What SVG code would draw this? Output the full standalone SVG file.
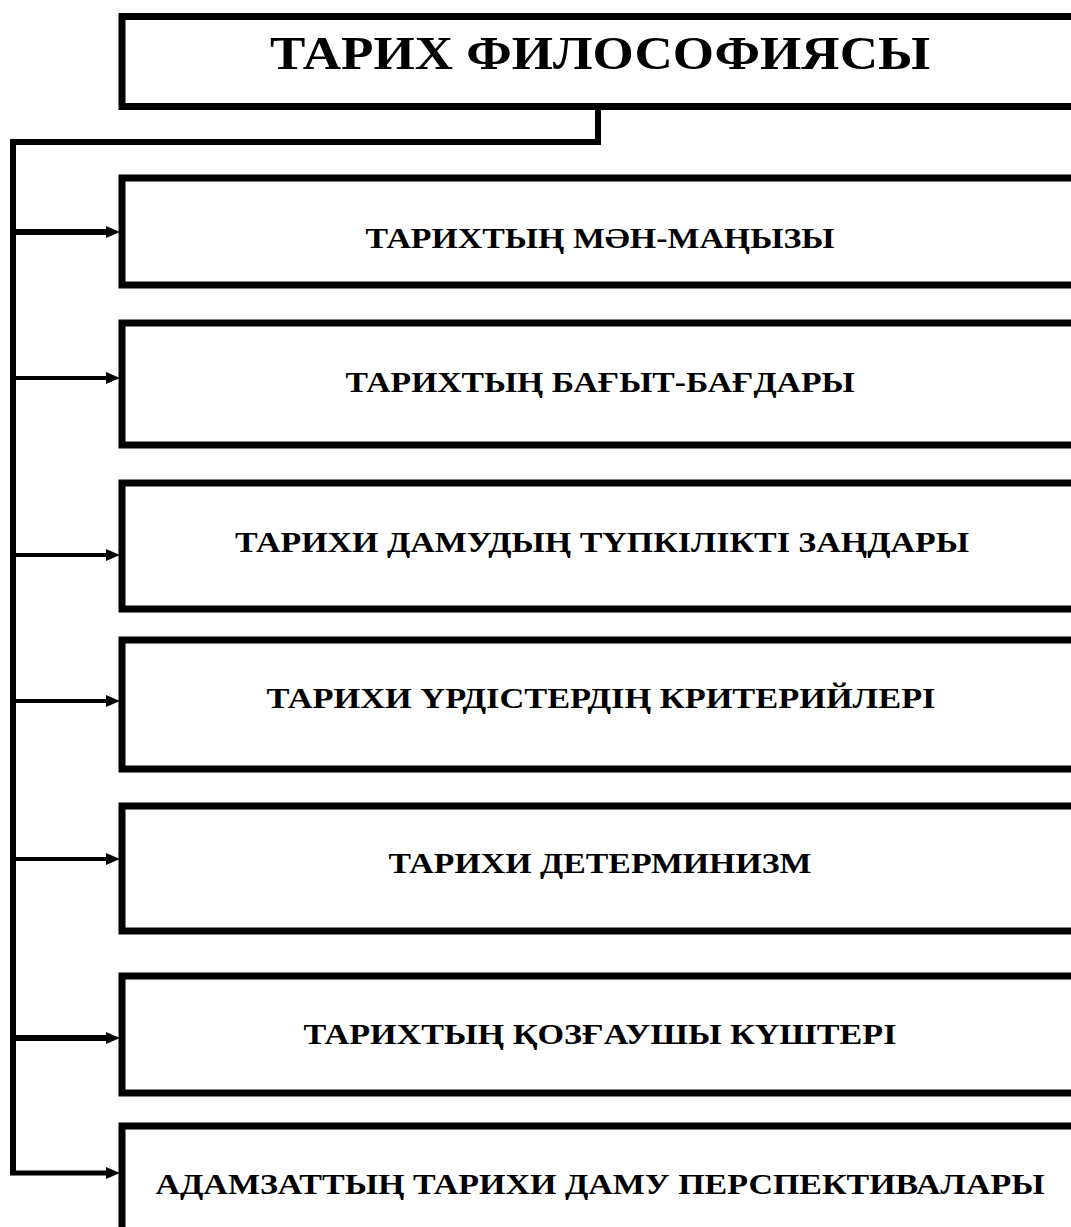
<svg xmlns="http://www.w3.org/2000/svg" width="1071" height="1227" viewBox="0 0 1071 1227">
<style>
  .box { fill: #ffffff; stroke: #000000; stroke-width: 7; }
  .lbl { font-family: "Liberation Serif", "Times New Roman", serif; font-weight: bold; fill: #000000; text-anchor: middle; }
  .t { font-size: 30px; }
  .title { font-size: 47px; }
  .wire { fill: none; stroke: #000000; stroke-width: 6; }
  .arr { fill: none; stroke: #000000; }
</style>
<defs>
  <marker id="ah" markerUnits="userSpaceOnUse" markerWidth="14" markerHeight="12" refX="0" refY="6" orient="auto">
    <path d="M0,0 L14,6 L0,12 z" fill="#000000"/>
  </marker>
</defs>
<rect width="1071" height="1227" fill="#ffffff"/>

<g id="connectors">
  <path class="wire" d="M598,108 V142 H13 V1173"/>
  <line class="arr" x1="10" y1="232" x2="106" y2="232" stroke-width="6" marker-end="url(#ah)"/>
  <line class="arr" x1="13" y1="378" x2="106" y2="378" stroke-width="4" marker-end="url(#ah)"/>
  <line class="arr" x1="13" y1="555" x2="106" y2="555" stroke-width="4" marker-end="url(#ah)"/>
  <line class="arr" x1="13" y1="701" x2="106" y2="701" stroke-width="4" marker-end="url(#ah)"/>
  <line class="arr" x1="13" y1="859" x2="106" y2="859" stroke-width="4" marker-end="url(#ah)"/>
  <line class="arr" x1="10" y1="1038" x2="106" y2="1038" stroke-width="6" marker-end="url(#ah)"/>
  <line class="arr" x1="10" y1="1173" x2="106" y2="1173" stroke-width="5" marker-end="url(#ah)"/>
</g>

<g id="root">
  <rect class="box" x="122" y="16.5" width="1000" height="90"/>
  <text class="lbl title" x="600" y="69" textLength="660" lengthAdjust="spacingAndGlyphs">ТАРИХ ФИЛОСОФИЯСЫ</text>
</g>

<g id="n1">
  <rect class="box" x="122" y="178" width="1000" height="107"/>
  <text class="lbl t" x="600" y="248" textLength="469" lengthAdjust="spacingAndGlyphs">ТАРИХТЫҢ МӘН-МАҢЫЗЫ</text>
</g>

<g id="n2">
  <rect class="box" x="122" y="323" width="1000" height="122"/>
  <text class="lbl t" x="600" y="392" textLength="509" lengthAdjust="spacingAndGlyphs">ТАРИХТЫҢ БАҒЫТ-БАҒДАРЫ</text>
</g>

<g id="n3">
  <rect class="box" x="122" y="483" width="1000" height="126"/>
  <text class="lbl t" x="602" y="552" textLength="734" lengthAdjust="spacingAndGlyphs">ТАРИХИ ДАМУДЫҢ ТҮПКІЛІКТІ ЗАҢДАРЫ</text>
</g>

<g id="n4">
  <rect class="box" x="122" y="640" width="1000" height="129"/>
  <text class="lbl t" x="601" y="708" textLength="669" lengthAdjust="spacingAndGlyphs">ТАРИХИ ҮРДІСТЕРДІҢ КРИТЕРИЙЛЕРІ</text>
</g>

<g id="n5">
  <rect class="box" x="122" y="806" width="1000" height="125"/>
  <text class="lbl t" x="600" y="873" textLength="423" lengthAdjust="spacingAndGlyphs">ТАРИХИ ДЕТЕРМИНИЗМ</text>
</g>

<g id="n6">
  <rect class="box" x="122" y="976" width="1000" height="117"/>
  <text class="lbl t" x="600" y="1044" textLength="593" lengthAdjust="spacingAndGlyphs">ТАРИХТЫҢ ҚОЗҒАУШЫ КҮШТЕРІ</text>
</g>

<g id="n7">
  <rect class="box" x="122" y="1126" width="1000" height="130"/>
  <text class="lbl t" x="600" y="1194" textLength="889" lengthAdjust="spacingAndGlyphs">АДАМЗАТТЫҢ ТАРИХИ ДАМУ ПЕРСПЕКТИВАЛАРЫ</text>
</g>
</svg>
